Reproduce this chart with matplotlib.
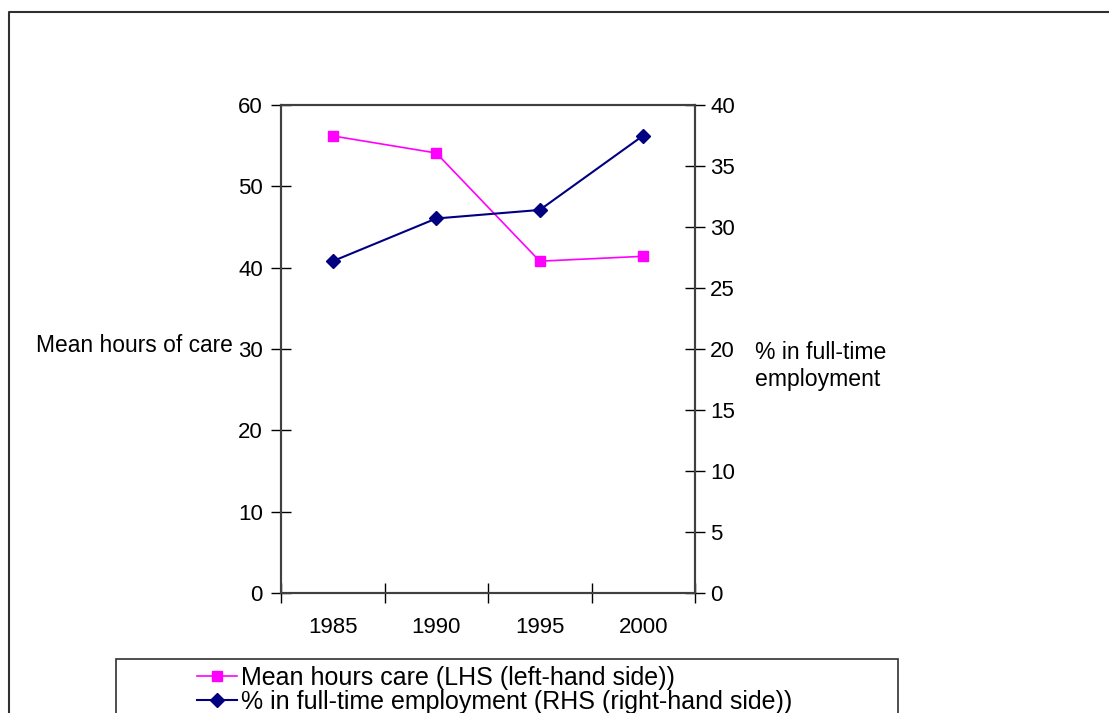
import matplotlib.pyplot as plt
from matplotlib.lines import Line2D
from matplotlib.patches import Rectangle

plt.rcParams['font.family'] = ['Liberation Sans', 'DejaVu Sans']

years = ['1985', '1990', '1995', '2000']
care_hours = [56.2, 54.1, 40.8, 41.4]
fulltime_pct = [27.2, 30.7, 31.4, 37.5]

fig = plt.figure(figsize=(11.09, 7.13), dpi=100)
ax = fig.add_axes([0.2534, 0.1683, 0.3733, 0.6844])
ax2 = ax.twinx()

x = range(len(years))
l1, = ax.plot(x, care_hours, color='#FF00FF', lw=1.2, marker='s', ms=7.7,
              label='Mean hours care (LHS (left-hand side))')
l2, = ax2.plot(x, fulltime_pct, color='#000080', lw=1.5, marker='D', ms=6.7,
               label='% in full-time employment (RHS (right-hand side))')

ax.set_xlim(-0.5, len(years) - 0.5)
ax.set_ylim(0, 60)
ax2.set_ylim(0, 40)
ax.set_yticks(range(0, 61, 10))
ax2.set_yticks(range(0, 41, 5))

# category ticks sit between the years, labels centred under each year
ax.set_xticks([i - 0.5 for i in range(len(years) + 1)])
ax.set_xticklabels([])
ax.set_xticks(list(x), minor=True)
ax.set_xticklabels(years, minor=True)
ax.tick_params(axis='x', which='minor', length=0, pad=17, labelsize=16)
ax.tick_params(axis='x', which='major', direction='inout', length=15, width=1)
ax.tick_params(axis='y', direction='inout', length=14, width=1, pad=6, labelsize=16)
ax2.tick_params(axis='y', direction='inout', length=14, width=1, pad=4, labelsize=16)

for a in (ax, ax2):
    for s in a.spines.values():
        s.set_color('#404040')
        s.set_linewidth(1.5)

fig.text(36 / 1109, 1 - 345 / 713, 'Mean hours of care', fontsize=16.4,
         ha='left', va='center')
fig.text(755 / 1109, 1 - 366 / 713, '% in full-time\nemployment', fontsize=16.6,
         ha='left', va='center', linespacing=1.25)

# outer chart frame (left and top edges)
fig.add_artist(Line2D([9 / 1109, 9 / 1109, 1.0], [0.0, 1 - 12 / 713, 1 - 12 / 713],
                      transform=fig.transFigure, color='#303030', lw=1.5))

# legend box
fig.add_artist(Rectangle((116 / 1109, -0.02), (898 - 116) / 1109, 0.02 + (713 - 659) / 713,
                         transform=fig.transFigure, fill=False, ec='#303030', lw=1.2))
fig.legend(handles=[l1, l2], loc='upper left', frameon=False, fontsize=18,
           bbox_to_anchor=(197 / 1109, 1 - 666 / 713), handlelength=1.6,
           handletextpad=0.15, labelspacing=0.0, borderpad=0, borderaxespad=0)

fig.savefig('out.png', dpi=100)
